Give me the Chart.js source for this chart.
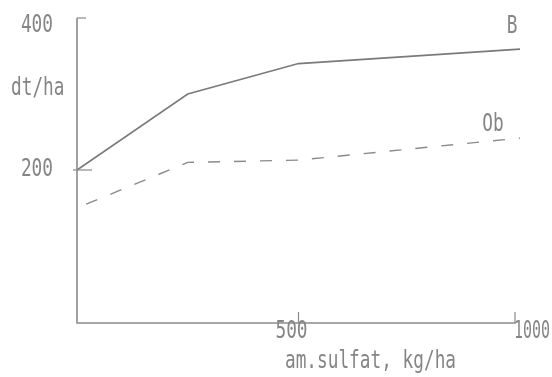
<!DOCTYPE html>
<html>
<head>
<meta charset="utf-8">
<script src="https://cdn.jsdelivr.net/npm/chart.js@4/dist/chart.umd.min.js"></script>
<style>
  html, body { margin: 0; padding: 0; background: #ffffff; }
  #wrap { width: 552px; height: 377px; position: relative; }
</style>
</head>
<body>
<div id="wrap"><canvas id="c" width="552" height="377"></canvas></div>
<script>
// ---- data ----
const doses = [0, 250, 500, 1000];          // am.sulfat, kg/ha
const yieldB = [200, 300, 340, 359];        // series B, dt/ha
const yieldOb = [150, 210, 213, 242];       // series Ob, dt/ha
const seriesNames = ['B', 'Ob'];
const xTickValues = [500, 1000];
const yTickValues = [200, 400];
const xTitle = 'am.sulfat, kg/ha';
const yTitle = 'dt/ha';

const ink = '#858585';
const SX = 0.74; // horizontal squeeze for the narrow plotter-like lettering

function drawText(ctx, text, x, baseY, align, maxW) {
  ctx.save();
  ctx.font = '24px "DejaVu Sans Mono"';
  ctx.fillStyle = ink;
  ctx.textBaseline = 'alphabetic';
  ctx.textAlign = 'left';
  let sx = SX;
  const raw = ctx.measureText(text).width;
  if (maxW && raw * sx > maxW) sx = maxW / raw;
  const w = raw * sx;
  const left = align === 'center' ? x - w / 2 : (align === 'right' ? x - w : x);
  ctx.translate(left, baseY);
  ctx.scale(sx, 1);
  ctx.fillText(text, 0, 0);
  ctx.restore();
}

const axesPlugin = {
  id: 'plotterAxes',
  afterDatasetsDraw(chart) {
    const ctx = chart.ctx;
    const xs = chart.scales.x, ys = chart.scales.y;
    const x0 = xs.getPixelForValue(0), y0 = ys.getPixelForValue(0);
    const xEnd = xs.getPixelForValue(xs.max), yTop = ys.getPixelForValue(ys.max);
    ctx.save();
    ctx.strokeStyle = '#8a8a8a';
    ctx.lineWidth = 1.6;
    ctx.beginPath();
    ctx.moveTo(x0, yTop);
    ctx.lineTo(x0, y0 + 1);
    ctx.lineTo(xEnd - 4, y0 + 1);
    ctx.stroke();
    ctx.lineWidth = 1.2;
    // y ticks (inside), labels on the left
    yTickValues.forEach((v, i) => {
      const py = ys.getPixelForValue(v);
      ctx.beginPath();
      ctx.moveTo(i === 0 ? x0 - 4 : x0, py);
      ctx.lineTo(x0 + (i === 0 ? 15 : 9), py);
      ctx.stroke();
      drawText(ctx, String(v), x0 - 24, py + (i === 0 ? 6 : 14), 'right');
    });
    // x ticks (inside), labels just under the axis
    xTickValues.forEach((v, i) => {
      const px = xs.getPixelForValue(v) - (i === 1 ? 5 : 0);
      ctx.beginPath();
      ctx.moveTo(px, y0 + 1);
      ctx.lineTo(px, y0 - 10);
      ctx.stroke();
      if (i === 0) drawText(ctx, String(v), px - 7, y0 + 16, 'center');
      else drawText(ctx, String(v), px - 1, y0 + 16, 'left', 36);
    });
    ctx.restore();
    // axis titles
    drawText(ctx, yTitle, 11, yTop + 77, 'left');
    drawText(ctx, xTitle, (x0 + xEnd) / 2 + 72, y0 + 46, 'center');
    // series labels near line ends
    const mB = chart.getDatasetMeta(0).data, mO = chart.getDatasetMeta(1).data;
    const lb = mB[mB.length - 1], lo = mO[mO.length - 1];
    drawText(ctx, seriesNames[0], lb.x - 8, lb.y - 16, 'center');
    drawText(ctx, seriesNames[1], lo.x - 27, lo.y - 7, 'center');
  }
};

new Chart(document.getElementById('c'), {
  type: 'scatter',
  data: {
    datasets: [
      {
        label: seriesNames[0],
        data: doses.map((d, i) => ({ x: d, y: yieldB[i] })),
        showLine: true,
        borderColor: '#7a7a7a',
        borderWidth: 1.6,
        pointRadius: 0,
        tension: 0,
        clip: false
      },
      {
        label: seriesNames[1],
        data: doses.map((d, i) => ({ x: d, y: yieldOb[i] })),
        showLine: true,
        borderColor: '#8a8a8a',
        borderWidth: 1.4,
        borderDash: [12, 14],
        borderDashOffset: 16,
        pointRadius: 0,
        tension: 0,
        clip: false
      }
    ]
  },
  options: {
    responsive: false,
    animation: false,
    layout: { padding: { left: 77, top: 18, right: 32, bottom: 55 } },
    plugins: { legend: { display: false }, tooltip: { enabled: false } },
    scales: {
      x: { type: 'linear', min: 0, max: 1000, display: false },
      y: { type: 'linear', min: 0, max: 400, display: false }
    }
  },
  plugins: [axesPlugin]
});
</script>
</body>
</html>
